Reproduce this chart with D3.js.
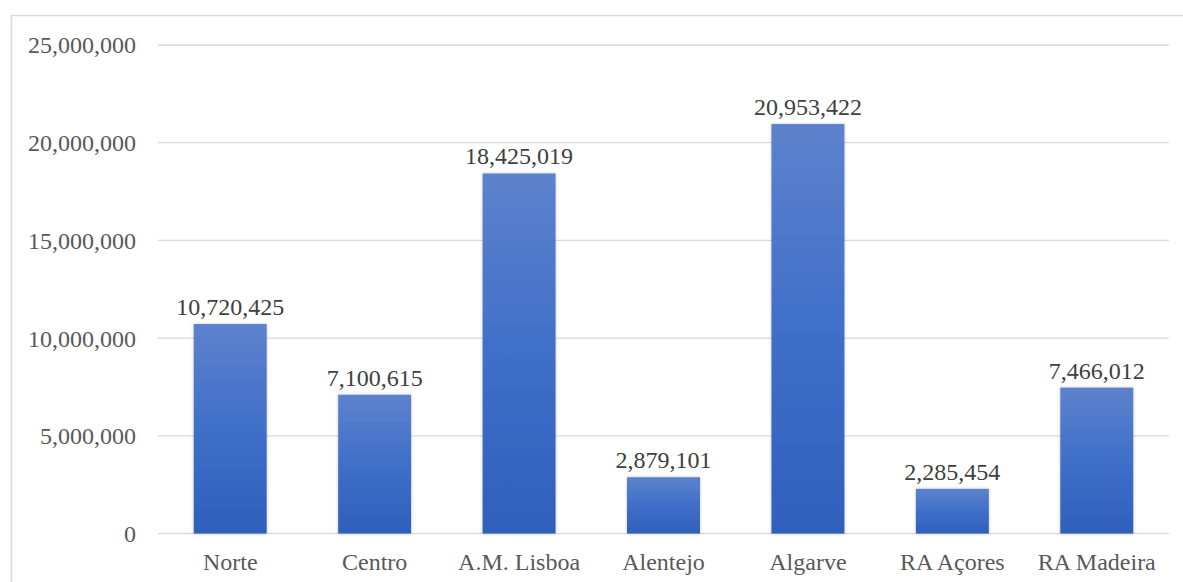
<!DOCTYPE html>
<html>
<head>
<meta charset="utf-8">
<script src="https://cdn.jsdelivr.net/npm/d3@7"></script>
<style>
  html, body { margin: 0; padding: 0; background: #fff; }
  svg { display: block; }
  svg text { font-family: "Times New Roman", Times, Tinos, "Liberation Serif", "DejaVu Serif", "Noto Serif", FreeSerif, "Nimbus Roman", "Nimbus Roman No9 L", Georgia, serif !important; }
</style>
</head>
<body>
<svg id="chart" width="1183" height="582"></svg>
<script>
const categories = ["Norte", "Centro", "A.M. Lisboa", "Alentejo", "Algarve", "RA Açores", "RA Madeira"];
const values = [10720425, 7100615, 18425019, 2879101, 20953422, 2285454, 7466012];
const yTicks = [0, 5000000, 10000000, 15000000, 20000000, 25000000];

const svg = d3.select("#chart");
const W = 1183, H = 582;
const margin = { left: 158, right: 14, top: 45, bottom: 48.5 };

// outer border
svg.append("rect")
  .attr("x", 11.5).attr("y", 15.5)
  .attr("width", W + 10).attr("height", H + 10)
  .attr("fill", "#fff").attr("stroke", "#d9d9d9").attr("stroke-width", 1.5);

const defs = svg.append("defs");
const grad = defs.append("linearGradient").attr("id", "barGrad")
  .attr("x1", 0).attr("y1", 0).attr("x2", 0).attr("y2", 1);
grad.append("stop").attr("offset", "0%").attr("stop-color", "#5d82cd");
grad.append("stop").attr("offset", "50%").attr("stop-color", "#3f6fc8");
grad.append("stop").attr("offset", "100%").attr("stop-color", "#2f5fbc");

const filt = defs.append("filter").attr("id", "shadow")
  .attr("x", "-20%").attr("y", "-20%").attr("width", "140%").attr("height", "140%");
filt.append("feDropShadow").attr("dx", 0).attr("dy", 0).attr("stdDeviation", 1.5)
  .attr("flood-color", "#000").attr("flood-opacity", 0.25);

const x = d3.scaleBand().domain(categories)
  .range([margin.left, W - margin.right]).paddingInner(0.495).paddingOuter(0.2475);
const y = d3.scaleLinear().domain([0, 25000000]).range([H - margin.bottom, margin.top]);

// gridlines
svg.append("g").selectAll("line").data(yTicks).join("line")
  .attr("x1", margin.left).attr("x2", W - margin.right)
  .attr("y1", d => y(d)).attr("y2", d => y(d))
  .attr("stroke", "#d9d9d9").attr("stroke-width", 1.3);

// y axis
const yAxis = d3.axisLeft(y).tickValues(yTicks).tickFormat(d3.format(",")).tickSize(0).tickPadding(22);
const gy = svg.append("g").attr("transform", `translate(${margin.left},0)`).call(yAxis)
  .attr("font-size", 24);
gy.select(".domain").remove();
gy.selectAll("text").attr("fill", "#595959").attr("dy", "0.33em");

// bars
svg.append("g").selectAll("rect").data(values).join("rect")
  .attr("x", (d, i) => x(categories[i]))
  .attr("y", d => y(d))
  .attr("width", x.bandwidth())
  .attr("height", d => y(0) - y(d))
  .attr("fill", "url(#barGrad)")
  .attr("filter", "url(#shadow)");

// value labels
svg.append("g").attr("font-size", 24)
  .selectAll("text").data(values).join("text")
  .attr("x", (d, i) => x(categories[i]) + x.bandwidth() / 2)
  .attr("y", d => y(d) - 9)
  .attr("text-anchor", "middle")
  .attr("fill", "#404040")
  .text(d => d3.format(",")(d));

// x axis
const xAxis = d3.axisBottom(x).tickSize(0).tickPadding(19);
const gx = svg.append("g").attr("transform", `translate(0,${y(0)})`).call(xAxis)
  .attr("font-size", 24);
gx.select(".domain").remove();
gx.selectAll("text").attr("fill", "#595959");
</script>
</body>
</html>
